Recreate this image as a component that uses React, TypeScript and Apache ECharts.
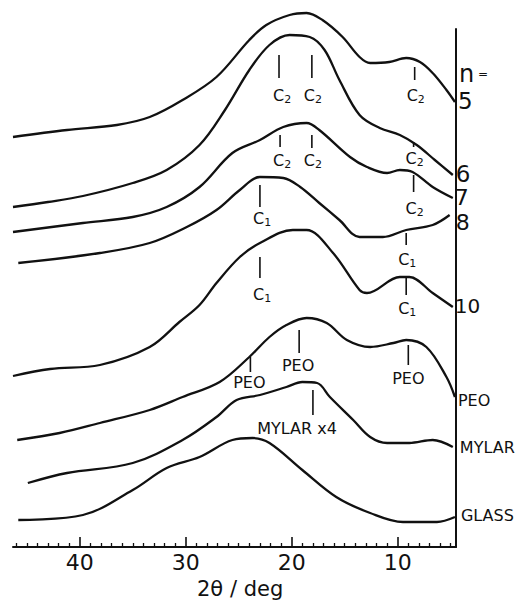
import React, { useEffect, useRef } from 'react';
import * as echarts from 'echarts';

// [2θ (deg), intensity (offset, arbitrary units)]
const curveN5 = [[46.3,410],[41.2,417],[36.5,422],[33.4,430],[30.3,447],[27.1,470],[24.0,507],[22.4,522],[20.2,532],[18.6,534],[17.1,527],[15.2,510],[13.6,490],[12.6,484],[10.8,485],[9.2,489],[7.9,485],[6.7,474],[5.4,457],[4.6,445]];
const curveN6 = [[46.3,340],[43.0,345],[39.7,351],[35.0,364],[31.8,377],[28.7,402],[26.3,437],[24.0,477],[22.1,502],[20.2,512],[18.3,510],[16.9,497],[15.5,467],[13.6,432],[11.7,419],[9.8,412],[8.2,402],[6.5,387],[4.8,372]];
const curveN7 = [[46.3,315],[39.7,324],[35.0,330],[31.8,340],[28.7,360],[25.6,394],[23.0,407],[20.8,420],[18.6,424],[17.4,417],[14.5,390],[12.9,380],[11.0,374],[9.8,377],[8.6,375],[6.7,360],[4.8,349]];
const curveN8 = [[45.8,284],[38.1,294],[33.4,304],[29.9,320],[27.1,337],[24.9,357],[23.0,370],[20.8,369],[19.2,360],[17.4,344],[15.5,327],[13.6,310],[11.4,310],[9.2,317],[6.7,322],[5.1,332]];
const curveN10 = [[46.3,171],[42.8,178],[38.1,182],[33.4,200],[30.6,225],[28.7,242],[27.1,264],[24.9,290],[23.0,304],[19.9,317],[18.6,317],[16.1,294],[13.6,257],[12.9,254],[9.8,270],[8.9,270],[6.7,254],[4.8,240]];
const curvePEO = [[45.9,107],[41.9,114],[38.1,124],[33.4,137],[30.3,150],[26.8,165],[24.0,190],[22.1,210],[20.5,222],[18.6,229],[16.7,224],[14.8,207],[12.6,200],[10.4,204],[9.2,207],[7.3,200],[5.4,170],[4.6,150]];
const curveMYLAR = [[44.9,64],[41.2,74],[35.0,84],[30.3,107],[27.1,130],[25.2,147],[23.0,152],[20.5,160],[19.0,165],[17.6,164],[16.4,150],[14.2,127],[12.6,110],[11.0,104],[8.9,104],[6.7,107],[4.8,100]];
const curveGLASS = [[45.8,27],[39.7,32],[35.0,57],[31.8,79],[28.7,90],[25.6,107],[23.7,109],[22.1,104],[19.0,77],[15.8,50],[12.6,34],[9.5,25],[6.3,25],[4.6,30]];

const curveNames = ['5', '6', '7', '8', '10', 'PEO', 'MYLAR', 'GLASS'];

const majorTicks = [10, 20, 30, 40];
const minorTicks = [5,6,7,8,9,11,12,13,14,15,16,17,18,19,21,22,23,24,25,26,27,28,29,31,32,33,34,35,36,37,38,39,41,42,43,44,45,46];

// annotation marks: tick x, tick top, tick bottom, label x, label y, text
const annoDeg = [21.2, 18.1, 8.4, 21.1, 18.1, 8.5, 23.0, 8.5, 9.2, 23.0, 9.2, 23.9, 19.3, 9.0, 18.0];
const annoTop = [492, 492, 480, 412, 412, 405, 362, 372, 314, 290, 269, 190, 217, 202, 157];
const annoBottom = [469, 469, 467, 400, 399, 400, 340, 355, 302, 269, 252, 175, 194, 182, 132];
const annoLabelDeg = [20.9, 18.0, 8.3, 20.9, 18.0, 8.4, 22.8, 8.4, 9.1, 22.8, 9.1, 24.0, 19.4, 9.0, 19.5];
const annoLabelY = [452, 452, 452, 387, 387, 389, 329, 339, 288, 253, 239, 165, 182, 169, 119];
const annoText = ['C2', 'C2', 'C2', 'C2', 'C2', 'C2', 'C1', 'C2', 'C1', 'C1', 'C1', 'PEO', 'PEO', 'PEO', 'MYLAR x4'];

const FONT = 'DejaVu Sans';

export default function App() {
  const ref = useRef<HTMLDivElement>(null);
  useEffect(() => {
    if (!ref.current) return;
    const chart = echarts.init(ref.current, undefined, { renderer: 'svg' });
    const curves = [curveN5, curveN6, curveN7, curveN8, curveN10, curvePEO, curveMYLAR, curveGLASS];
    const labelSize = [23, 23, 22, 22, 20, 16, 16, 16];
    const labelLineH = [20, 20, 17, 17, 18, 16, 16, 16];
    const labelOffset = [[3, -1], [3, -1], [2, -1], [6, 7], [2, -1], [3, 3], [7, 0], [6, -2]];

    const lineSeries = curves.map((d, i) => ({
      type: 'line',
      name: curveNames[i],
      data: d,
      xAxisIndex: 0,
      yAxisIndex: 0,
      smooth: 0.35,
      symbol: 'none',
      clip: false,
      silent: true,
      lineStyle: { color: '#111', width: 2.3 },
      endLabel: {
        show: true,
        formatter: curveNames[i],
        distance: 0,
        align: 'left',
        verticalAlign: 'middle',
        offset: labelOffset[i],
        fontSize: labelSize[i],
        lineHeight: labelLineH[i],
        fontFamily: FONT,
        color: '#111',
      },
    }));

    const annoData = annoDeg.map((d, i) => [d, annoTop[i], annoBottom[i], annoLabelDeg[i], annoLabelY[i]]);

    const annoSeries = {
      type: 'custom',
      coordinateSystem: 'cartesian2d',
      xAxisIndex: 0,
      yAxisIndex: 0,
      clip: false,
      silent: true,
      data: annoData,
      renderItem: (params: any, api: any) => {
        const t = api.coord([api.value(0), api.value(1)]);
        const b = api.coord([api.value(0), api.value(2)]);
        const l = api.coord([api.value(3), api.value(4)]);
        const txt = annoText[params.dataIndex];
        const isC = /^C\d$/.test(txt);
        const text = isC ? `{c|C}{s|${txt[1]}}` : txt;
        return {
          type: 'group',
          children: [
            { type: 'line', shape: { x1: t[0], y1: t[1], x2: b[0], y2: b[1] }, style: { stroke: '#111', lineWidth: 1.6 } },
            {
              type: 'text',
              x: l[0],
              y: l[1],
              style: {
                text,
                fill: '#111',
                fontSize: 16,
                fontFamily: FONT,
                align: 'center',
                verticalAlign: 'middle',
                rich: {
                  c: { fontSize: 16, fontFamily: FONT, lineHeight: 20, fill: '#111' },
                  s: { fontSize: 11, fontFamily: FONT, lineHeight: 13, verticalAlign: 'bottom', fill: '#111' },
                },
              },
            },
          ],
        };
      },
    };

    chart.setOption({
      animation: false,
      backgroundColor: '#fff',
      grid: { left: 13, right: 66, top: 29, bottom: 54, containLabel: false, outerBoundsMode: 'none' },
      xAxis: [
        {
          type: 'value',
          inverse: true,
          min: 4.5,
          max: 46.3,
          position: 'bottom',
          axisLine: { show: true, lineStyle: { color: '#111', width: 2 } },
          axisTick: { show: true, inside: true, length: 10, customValues: majorTicks, lineStyle: { color: '#111', width: 1.6 } },
          axisLabel: { show: true, customValues: majorTicks, fontSize: 22, fontFamily: FONT, color: '#111', margin: 4 },
          splitLine: { show: false },
        },
        {
          type: 'value',
          inverse: true,
          min: 4.5,
          max: 46.3,
          position: 'bottom',
          axisLine: { show: false },
          axisTick: { show: true, inside: true, length: 4, customValues: minorTicks, lineStyle: { color: '#111', width: 1.3 } },
          axisLabel: { show: false },
          splitLine: { show: false },
        },
      ],
      yAxis: {
        type: 'value',
        min: 0,
        max: 518,
        position: 'right',
        axisLine: { show: true, lineStyle: { color: '#111', width: 2 } },
        axisTick: { show: false },
        axisLabel: { show: false },
        splitLine: { show: false },
      },
      graphic: [
        {
          type: 'text',
          left: 459,
          top: 62,
          style: {
            text: '{n|n}{e| =}',
            fill: '#111',
            rich: {
              n: { fontSize: 24, fontFamily: FONT, fill: '#111', lineHeight: 26 },
              e: { fontSize: 12, fontFamily: FONT, fill: '#111', lineHeight: 26 },
            },
          },
        },
        {
          type: 'text',
          left: 197,
          top: 578,
          style: { text: '2θ / deg', fontSize: 21, fontFamily: FONT, fill: '#111' },
        },
      ],
      series: [...lineSeries, annoSeries],
    });
    return () => chart.dispose();
  }, []);
  return <div ref={ref} style={{ position: 'absolute', left: 0, top: 0, width: 522, height: 601, background: '#fff' }} />;
}
